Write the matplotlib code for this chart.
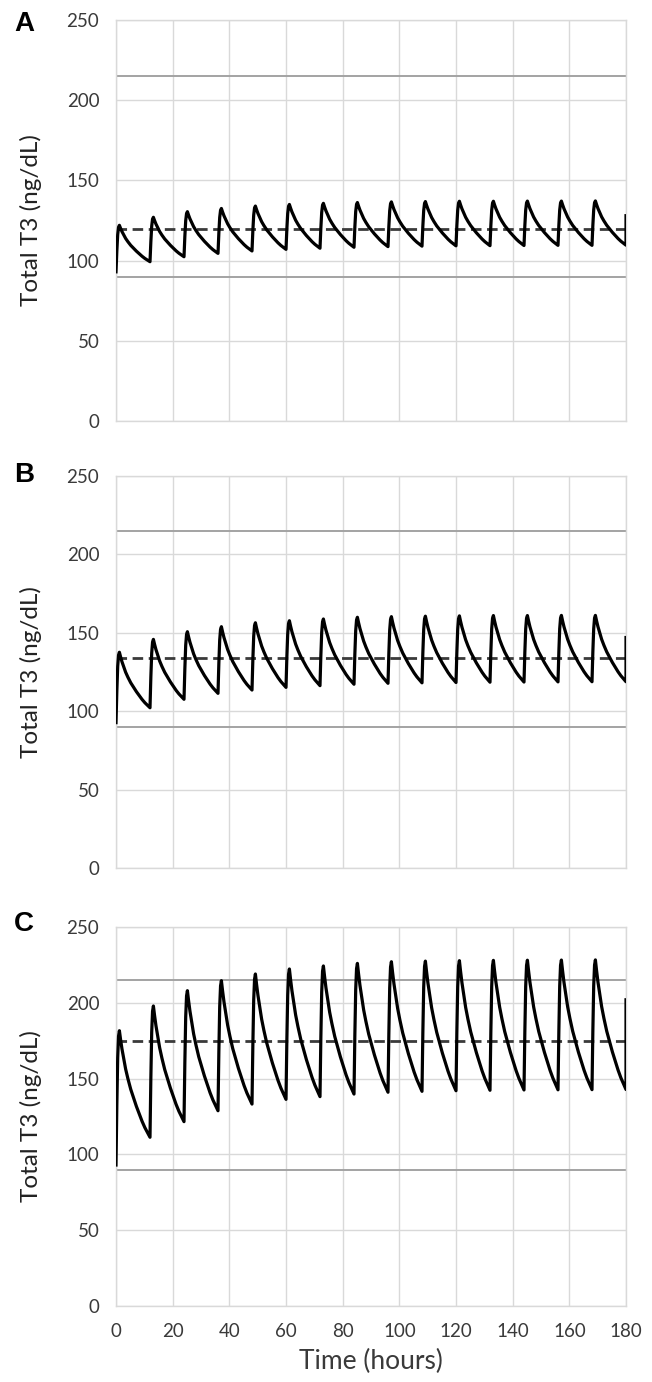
import matplotlib
matplotlib.use("Agg")
import matplotlib.pyplot as plt
import numpy as np

# ---------------- data ----------------
dose_times = [0, 12, 24, 36, 48, 60, 72, 84, 96, 108, 120, 132, 144, 156, 168]

start_A = 93.0
peaks_A = [122, 127, 130.5, 132.5, 134, 135, 135.7, 136.2, 136.6, 136.8, 137, 137, 137.1, 137.1, 137.2]
troughs_A = [99.3, 102.4, 104.5, 106, 107, 107.7, 108.3, 108.7, 109, 109.2, 109.3, 109.4, 109.5, 109.5, 109.6]
end_A = 128.0
mean_A = 120

start_B = 92.7
peaks_B = [137.6, 145.8, 150.7, 153.9, 156.4, 157.7, 158.8, 159.9, 160.3, 160.6, 160.8, 161, 161, 161.1, 161.1]
troughs_B = [102.2, 107.6, 111.4, 113.5, 115.2, 116.3, 117.2, 117.8, 118.1, 118.3, 118.5, 118.6, 118.7, 118.8, 118.8]
end_B = 147.0
mean_B = 134

start_C = 93.0
peaks_C = [181.6, 197.9, 208, 214.6, 219, 222.3, 224.3, 226, 227.1, 227.5, 227.8, 228, 228.1, 228.2, 228.3]
troughs_C = [111.3, 121.6, 128.8, 133.2, 136.3, 138.1, 139.8, 141, 141.6, 142, 142.3, 142.5, 142.6, 142.7, 142.8]
end_C = 202.0
mean_C = 175

ref_low = 90
ref_high = 215

# shape of one dosing interval (hours after dose, fraction of rise/decay)
rise_hours = [0, 0.3, 0.6, 0.9, 1.2]
rise_frac = [0, 0.45, 0.8, 0.96, 1.0]
decay_hours = [0, 0.4, 0.9, 1.5, 2.2, 3, 4, 5, 6, 7, 8, 9, 10, 10.8]
decay_frac = [1, 0.92, 0.83, 0.74, 0.64, 0.55, 0.45, 0.37, 0.29, 0.22, 0.15, 0.09, 0.04, 0]

x_ticks = [0, 20, 40, 60, 80, 100, 120, 140, 160, 180]
y_ticks = [0, 50, 100, 150, 200, 250]
panel_labels = ["A", "B", "C"]
y_label = "Total T3 (ng/dL)"
x_label = "Time (hours)"


def build_curve(start, peaks, troughs, end):
    t, v = [], []
    prev = start
    for i, d in enumerate(dose_times):
        pk, tr = peaks[i], troughs[i]
        for h, f in zip(rise_hours, rise_frac):
            t.append(d + h)
            v.append(prev + f * (pk - prev))
        t0 = d + rise_hours[-1]
        for h, f in zip(decay_hours[1:], decay_frac[1:]):
            t.append(t0 + h)
            v.append(tr + f * (pk - tr))
        prev = tr
    t.append(dose_times[-1] + 12)
    v.append(end)
    return t, v


panels = [
    (start_A, peaks_A, troughs_A, end_A, mean_A),
    (start_B, peaks_B, troughs_B, end_B, mean_B),
    (start_C, peaks_C, troughs_C, end_C, mean_C),
]

W, H = 652, 1382
fig = plt.figure(figsize=(W / 100, H / 100), dpi=100)
boxes = [(20, 421), (476, 868), (927, 1306)]
left_px, right_px = 116, 626
letter_y = [11, 462, 911]

tick_font = "Lato"
grid_c = "#d9d9d9"
text_c = "#3a3a3a"

for k, ((top, bot), (s, pk, tr, en, mn)) in enumerate(zip(boxes, panels)):
    ax = fig.add_axes([left_px / W, 1 - bot / H, (right_px - left_px) / W, (bot - top) / H])
    ax.set_xlim(0, 180)
    ax.set_ylim(0, 250)
    ax.set_xticks(x_ticks)
    ax.set_yticks(y_ticks)
    ax.grid(True, color=grid_c, lw=1.0, zorder=0)
    ax.set_axisbelow(True)
    for sp in ax.spines.values():
        sp.set_color(grid_c)
        sp.set_linewidth(1.0)
    ax.tick_params(length=0, pad=12, labelsize=13.5, labelcolor=text_c)
    for lab in ax.get_xticklabels() + ax.get_yticklabels():
        lab.set_family(tick_font)
    if k < 2:
        ax.tick_params(labelbottom=False)

    ax.axhline(ref_low, color="#a3a3a3", lw=1.4, zorder=1)
    ax.axhline(ref_high, color="#a3a3a3", lw=1.4, zorder=1)
    ax.axhline(mn, color="#3a3a3a", lw=2.0, ls=(0, (3.8, 2.0)), zorder=2)

    t, v = build_curve(s, pk, tr, en)
    ax.plot(t, v, color="black", lw=2.3, zorder=3, solid_joinstyle="round")

    fig.text(31 / W, 1 - ((top + bot) / 2) / H, y_label, rotation=90, ha="center", va="center",
             fontsize=17.5, color="#222222", family=tick_font)
    fig.text(14 / W, 1 - letter_y[k] / H, panel_labels[k], ha="left", va="top",
             fontsize=20, fontweight="bold", family="Liberation Sans", color="black")

fig.text(((left_px + right_px) / 2) / W, 1 - 1361 / H, x_label, ha="center", va="center",
         fontsize=19, color=text_c, family=tick_font)

fig.savefig("out.png", dpi=100, facecolor="white")
